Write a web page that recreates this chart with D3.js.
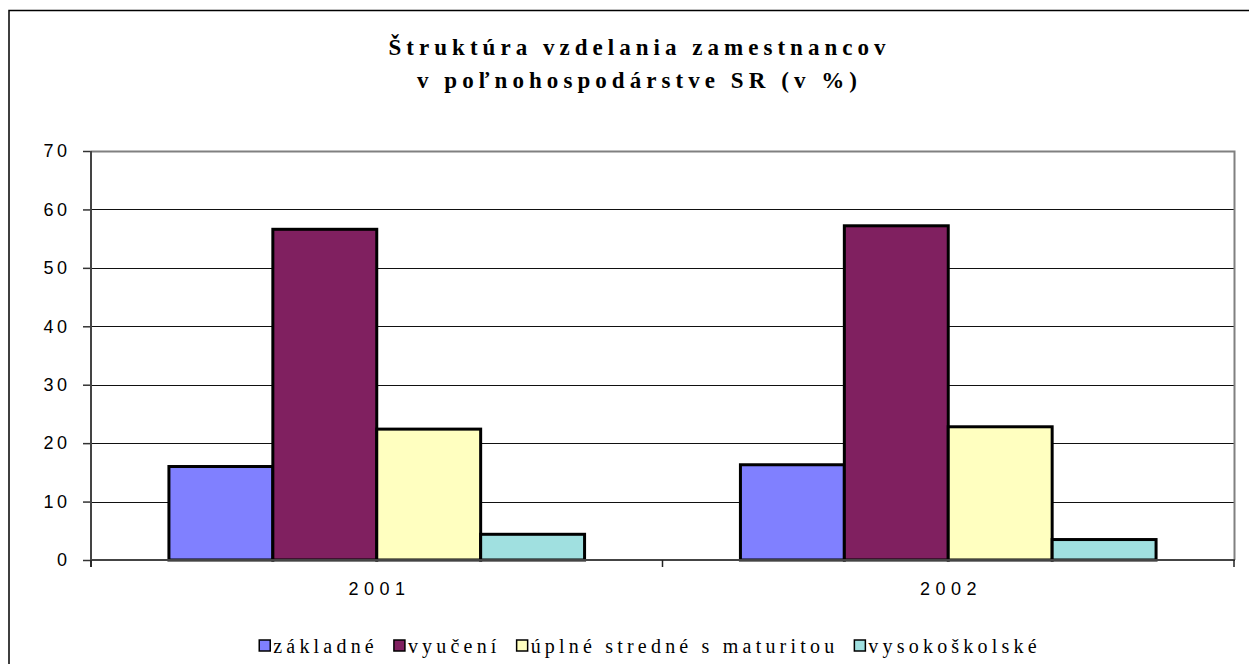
<!DOCTYPE html>
<html>
<head>
<meta charset="utf-8">
<script src="https://cdn.jsdelivr.net/npm/d3@7"></script>
<style>
  html, body { margin: 0; padding: 0; background: #fff; }
  svg { display: block; }
</style>
</head>
<body>
<svg id="chart" width="1249" height="664"></svg>
<script>
const titleLines = ["Štruktúra vzdelania zamestnancov", "v poľnohospodárstve SR (v %)"];
const categories = ["2001", "2002"];
const seriesNames = ["základné", "vyučení", "úplné stredné s maturitou", "vysokoškolské"];
const seriesColors = ["#8080FF", "#802060", "#FFFFC0", "#A0E0E0"];
const valuesZakladne = [16.0, 16.3];
const valuesVyuceni = [56.6, 57.2];
const valuesUplne = [22.4, 22.8];
const valuesVysoko = [4.4, 3.5];
const yTicks = [0, 10, 20, 30, 40, 50, 60, 70];

const seriesValues = [valuesZakladne, valuesVyuceni, valuesUplne, valuesVysoko];

const svg = d3.select("#chart");
const plot = { left: 91, right: 1234, top: 151, bottom: 560 };

// outer chart border
svg.append("rect")
  .attr("x", 9).attr("y", 10.5)
  .attr("width", 1300).attr("height", 700)
  .attr("fill", "#fff").attr("stroke", "#000").attr("stroke-width", 1.5);

// title
const titleLengths = [497, 440];
svg.selectAll("text.title")
  .data(titleLines)
  .join("text")
  .attr("class", "title")
  .attr("x", 637)
  .attr("y", (d, i) => 55 + i * 33)
  .attr("text-anchor", "middle")
  .attr("font-family", "'Liberation Serif', 'Times New Roman', serif")
  .attr("font-weight", "bold")
  .attr("font-size", 23)
  .attr("textLength", (d, i) => titleLengths[i])
  .attr("lengthAdjust", "spacing")
  .text(d => d);

const x0 = d3.scaleBand().domain(categories).range([plot.left, plot.right]).paddingInner(0).paddingOuter(0);
const x1 = d3.scaleBand().domain(seriesNames).range([0, x0.bandwidth()]).paddingInner(0).paddingOuter(0.75);
const y = d3.scaleLinear().domain([0, 70]).range([plot.bottom, plot.top]);

// gridlines
svg.append("g")
  .selectAll("line")
  .data(yTicks.filter(t => t > 0 && t < 70))
  .join("line")
  .attr("x1", plot.left).attr("x2", plot.right)
  .attr("y1", d => Math.round(y(d)) + 0.5).attr("y2", d => Math.round(y(d)) + 0.5)
  .attr("stroke", "#111").attr("stroke-width", 1);

// plot area border (top & right)
svg.append("path")
  .attr("d", `M${plot.left},${plot.top + 0.5}H${plot.right + 0.5}V${plot.bottom}`)
  .attr("fill", "none").attr("stroke", "#808080").attr("stroke-width", 2);

// bars
const groups = svg.append("g").selectAll("g")
  .data(categories)
  .join("g")
  .attr("transform", d => `translate(${x0(d)},0)`);

groups.selectAll("rect")
  .data((c, ci) => seriesNames.map((s, si) => ({ s, si, v: seriesValues[si][ci] })))
  .join("rect")
  .attr("x", d => x1(d.s))
  .attr("y", d => y(d.v))
  .attr("width", x1.bandwidth())
  .attr("height", d => y(0) - y(d.v))
  .attr("fill", d => seriesColors[d.si])
  .attr("stroke", "#000")
  .attr("stroke-width", 3);

// y axis
const yAxis = d3.axisLeft(y).tickValues(yTicks).tickSize(8).tickPadding(16).tickFormat(d3.format("d"));
const gy = svg.append("g").attr("transform", `translate(${plot.left},0)`).call(yAxis);
gy.select(".domain").remove();
gy.selectAll(".tick line").attr("stroke", "#333").attr("stroke-width", 1.5);
gy.selectAll(".tick text")
  .attr("font-family", "'Liberation Sans', Arial, sans-serif")
  .attr("font-size", 18)
  .attr("letter-spacing", 3.5)
  .attr("dx", 3.5)
  .attr("fill", "#000");
svg.append("line")
  .attr("x1", plot.left).attr("x2", plot.left)
  .attr("y1", plot.top).attr("y2", plot.bottom + 7)
  .attr("stroke", "#444").attr("stroke-width", 2);

// x axis
const xAxis = d3.axisBottom(x0).tickSize(0).tickPadding(22);
const gx = svg.append("g").attr("transform", `translate(0,${plot.bottom})`).call(xAxis);
gx.select(".domain").remove();
gx.selectAll(".tick text")
  .attr("font-family", "'Liberation Sans', Arial, sans-serif")
  .attr("font-size", 18)
  .attr("letter-spacing", 5.5)
  .attr("dx", 2.75)
  .attr("fill", "#000");
svg.append("line")
  .attr("x1", plot.left - 1).attr("x2", plot.right + 1)
  .attr("y1", plot.bottom).attr("y2", plot.bottom)
  .attr("stroke", "#444").attr("stroke-width", 2);
const boundaries = [plot.left, x0("2002"), plot.right];
svg.append("g").selectAll("line")
  .data(boundaries)
  .join("line")
  .attr("x1", d => d).attr("x2", d => d)
  .attr("y1", plot.bottom).attr("y2", plot.bottom + 7)
  .attr("stroke", "#222").attr("stroke-width", 1.5);

// legend
const legend = svg.append("g");
const items = legend.selectAll("g")
  .data(seriesNames)
  .join("g");
items.append("rect")
  .attr("x", 0).attr("y", -13)
  .attr("width", 11).attr("height", 11)
  .attr("fill", (d, i) => seriesColors[i])
  .attr("stroke", "#000").attr("stroke-width", 1.5);
items.append("text")
  .attr("x", 14).attr("y", 0)
  .attr("font-family", "'Liberation Serif', 'Times New Roman', serif")
  .attr("font-size", 20)
  .attr("letter-spacing", 4.2)
  .text(d => d);
let cx = 0;
const gap = 16;
const widths = [];
items.each(function () {
  widths.push(d3.select(this).select("text").node().getComputedTextLength() + 14);
});
const total = d3.sum(widths) + gap * (widths.length - 1);
const startX = 650 - total / 2;
items.attr("transform", (d, i) => {
  const t = `translate(${startX + cx},653)`;
  cx += widths[i] + gap;
  return t;
});
</script>
</body>
</html>
